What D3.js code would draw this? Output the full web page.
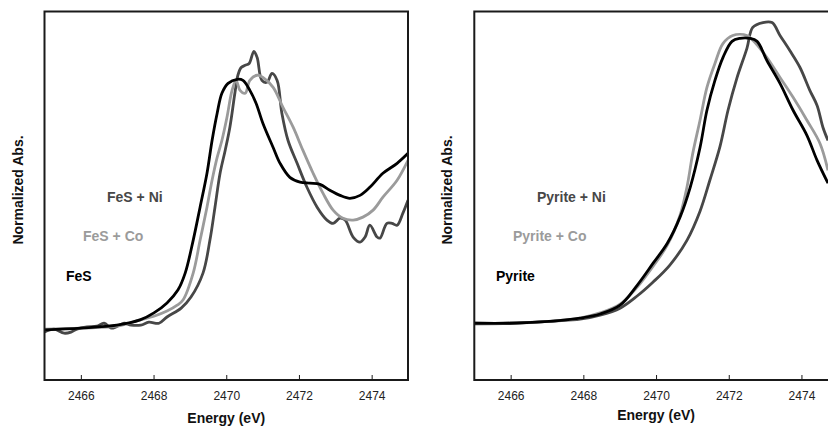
<!DOCTYPE html>
<html>
<head>
<meta charset="utf-8">
<title>S K-edge XANES</title>
<script src="https://cdn.jsdelivr.net/npm/d3@7"></script>
<style>
  body { margin: 0; background: #fff; }
  svg text { font-family: "Liberation Sans", Arial, sans-serif; }
</style>
</head>
<body>
<script>
// energy (eV), normalized absorbance
let fes = [[2465.00,0.136],[2466.00,0.141],[2466.99,0.149],[2467.63,0.163],[2468.01,0.182],[2468.37,0.209],
  [2468.67,0.244],[2468.87,0.290],[2469.09,0.379],[2469.28,0.469],[2469.47,0.561],[2469.61,0.650],[2469.75,0.724],
  [2469.88,0.778],[2470.05,0.805],[2470.30,0.816],[2470.46,0.813],[2470.65,0.786],[2470.82,0.751],[2471.01,0.696],
  [2471.29,0.631],[2471.48,0.588],[2471.75,0.550],[2472.03,0.537],[2472.30,0.534],[2472.58,0.531],[2472.85,0.515],
  [2473.13,0.501],[2473.40,0.493],[2473.68,0.501],[2473.95,0.523],[2474.31,0.561],[2474.70,0.588],[2475.00,0.615]]

let fesCo = [[2465.00,0.138],[2466.00,0.141],[2466.99,0.146],[2467.63,0.163],[2468.01,0.173],[2468.37,0.187],
  [2468.65,0.203],[2468.81,0.217],[2469.09,0.290],[2469.28,0.379],[2469.47,0.469],[2469.61,0.542],[2469.75,0.604],
  [2469.88,0.650],[2470.02,0.713],[2470.16,0.786],[2470.27,0.813],[2470.38,0.786],[2470.52,0.778],[2470.65,0.813],
  [2470.85,0.827],[2471.01,0.821],[2471.29,0.794],[2471.56,0.740],[2471.84,0.686],[2472.11,0.623],[2472.39,0.561],
  [2472.66,0.507],[2472.94,0.461],[2473.21,0.439],[2473.49,0.434],[2473.76,0.442],[2474.04,0.461],[2474.31,0.496],
  [2474.70,0.542],[2475.00,0.596]]

let fesNi = [[2465.00,0.130],[2465.26,0.138],[2465.54,0.127],[2465.73,0.130],[2465.89,0.138],[2466.17,0.144],
  [2466.44,0.146],[2466.64,0.154],[2466.83,0.141],[2466.97,0.144],[2467.19,0.154],[2467.38,0.149],[2467.65,0.149],
  [2467.87,0.157],[2468.15,0.154],[2468.37,0.171],[2468.76,0.195],[2469.03,0.225],[2469.36,0.290],[2469.55,0.379],
  [2469.69,0.469],[2469.83,0.561],[2469.97,0.623],[2470.10,0.686],[2470.24,0.780],[2470.32,0.827],[2470.41,0.848],
  [2470.52,0.854],[2470.63,0.859],[2470.76,0.892],[2470.85,0.875],[2470.98,0.813],[2471.12,0.808],[2471.26,0.832],
  [2471.40,0.813],[2471.53,0.724],[2471.70,0.650],[2471.95,0.588],[2472.22,0.523],[2472.50,0.469],[2472.77,0.434],
  [2472.94,0.425],[2473.13,0.439],[2473.27,0.434],[2473.49,0.388],[2473.68,0.374],[2473.82,0.388],[2473.95,0.420],
  [2474.15,0.388],[2474.23,0.385],[2474.42,0.425],[2474.56,0.425],[2474.70,0.420],[2474.86,0.453],[2475.00,0.488]]

let pyrite = [[2465.00,0.154],[2465.98,0.154],[2467.17,0.160],[2467.91,0.168],[2468.46,0.179],[2469.01,0.203],
  [2469.48,0.257],[2469.92,0.317],[2470.31,0.371],[2470.66,0.442],[2470.94,0.523],[2471.21,0.631],[2471.40,0.732],
  [2471.62,0.813],[2471.84,0.875],[2472.09,0.919],[2472.31,0.927],[2472.58,0.927],[2472.78,0.919],[2473.05,0.867],
  [2473.41,0.805],[2473.77,0.732],[2474.15,0.664],[2474.43,0.596],[2474.73,0.534]]

let pyriteCo = [[2465.00,0.152],[2465.98,0.154],[2467.17,0.160],[2467.91,0.168],[2468.46,0.182],[2469.01,0.206],
  [2469.48,0.252],[2469.92,0.309],[2470.31,0.366],[2470.66,0.447],[2470.85,0.523],[2471.01,0.615],[2471.21,0.705],
  [2471.40,0.794],[2471.62,0.859],[2471.84,0.913],[2472.11,0.935],[2472.50,0.935],[2472.67,0.921],[2473.05,0.875],
  [2473.41,0.821],[2473.77,0.767],[2474.15,0.705],[2474.51,0.642],[2474.73,0.569]]

let pyriteNi = [[2465.00,0.154],[2465.98,0.154],[2467.17,0.160],[2467.91,0.165],[2468.46,0.176],[2469.01,0.195],
  [2469.48,0.228],[2469.92,0.266],[2470.38,0.312],[2470.85,0.379],[2471.21,0.458],[2471.48,0.542],[2471.76,0.634],
  [2471.98,0.732],[2472.22,0.818],[2472.50,0.900],[2472.66,0.957],[2472.94,0.970],[2473.19,0.970],[2473.41,0.935],
  [2473.68,0.894],[2473.96,0.848],[2474.23,0.786],[2474.43,0.745],[2474.59,0.686],[2474.73,0.650]]

let energyTicks = [2466, 2468, 2470, 2472, 2474]
let xLabel = 'Energy (eV)'
let yLabel = 'Normalized Abs.'

let panels = [
  { left: 44.5, series: [
      { name: 'FeS + Ni', data: fesNi, color: '#474747', lx: 107, ly: 202 },
      { name: 'FeS + Co', data: fesCo, color: '#9b9b9b', lx: 83, ly: 241 },
      { name: 'FeS', data: fes, color: '#000', lx: 66, ly: 281 } ],
    yLabelX: 18, titleY: 423 },
  { left: 474.3, series: [
      { name: 'Pyrite + Ni', data: pyriteNi, color: '#474747', lx: 537, ly: 202 },
      { name: 'Pyrite + Co', data: pyriteCo, color: '#9b9b9b', lx: 513, ly: 241 },
      { name: 'Pyrite', data: pyrite, color: '#000', lx: 496, ly: 281 } ],
    yLabelX: 447, titleY: 420 }
]

let width = 828, height = 427
let plotTop = 11.5, plotBottom = 380, plotW = 363.5

let svg = d3.select('body').append('svg')
  .attr('width', width)
  .attr('height', height)

let y = d3.scaleLinear().domain([0, 1]).range([plotBottom, plotTop])

panels.forEach(function(p, i){
  let x = d3.scaleLinear().domain([2465, 2475]).range([p.left, p.left + plotW])

  svg.append('clipPath').attr('id', 'clip' + i)
    .append('rect')
    .attr('x', p.left).attr('y', plotTop)
    .attr('width', plotW).attr('height', plotBottom - plotTop)

  let line = d3.line()
    .x(d => x(d[0]))
    .y(d => y(d[1]))
    .curve(d3.curveCatmullRom.alpha(0.5))

  let g = svg.append('g').attr('clip-path', 'url(#clip' + i + ')')
  g.selectAll('path')
    .data(p.series)
    .enter().append('path')
    .attr('d', d => line(d.data))
    .attr('fill', 'none')
    .attr('stroke', d => d.color)
    .attr('stroke-width', 2.8)
    .attr('stroke-linejoin', 'round')

  // frame
  svg.append('rect')
    .attr('x', p.left).attr('y', plotTop)
    .attr('width', plotW).attr('height', plotBottom - plotTop)
    .attr('fill', 'none')
    .attr('stroke', '#1a1a1a')
    .attr('stroke-width', 2)

  // inward ticks on the energy axis
  let axis = svg.append('g')
    .attr('transform', 'translate(0,' + plotBottom + ')')
    .call(d3.axisBottom(x).tickValues(energyTicks).tickFormat(d3.format('d'))
      .tickSizeInner(-5).tickSizeOuter(0).tickPadding(11))
  axis.select('.domain').remove()
  axis.selectAll('line').attr('stroke', '#1a1a1a').attr('stroke-width', 1)
  axis.selectAll('text')
    .attr('font-size', 12)
    .attr('fill', '#222')
    .style('font-family', '"Liberation Sans", Arial, sans-serif')

  svg.append('text')
    .attr('x', x(2470))
    .attr('y', p.titleY)
    .attr('text-anchor', 'middle')
    .attr('font-size', 14)
    .attr('font-weight', 'bold')
    .attr('fill', '#111')
    .text(xLabel)

  svg.append('text')
    .attr('transform', 'translate(' + (p.yLabelX + 5) + ',' + 190 + ') rotate(-90)')
    .attr('text-anchor', 'middle')
    .attr('font-size', 14)
    .attr('font-weight', 'bold')
    .attr('fill', '#111')
    .text(yLabel)

  svg.selectAll('.lab' + i)
    .data(p.series)
    .enter().append('text')
    .attr('class', 'lab' + i)
    .attr('x', d => d.lx)
    .attr('y', d => d.ly)
    .attr('font-size', 14)
    .attr('font-weight', 'bold')
    .attr('fill', d => d.color)
    .text(d => d.name)
})
</script>
</body>
</html>
